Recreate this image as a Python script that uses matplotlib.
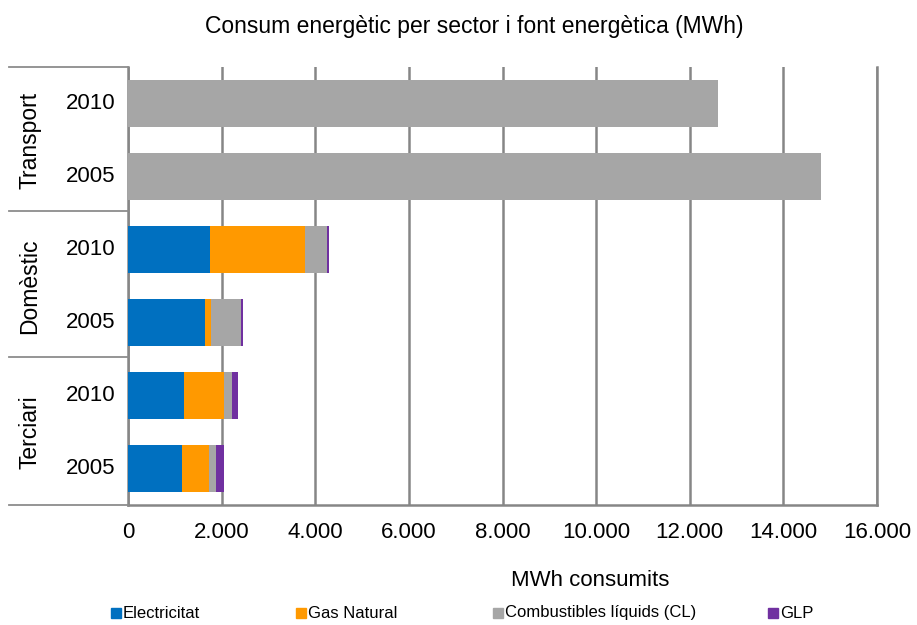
import matplotlib
matplotlib.use("Agg")
import matplotlib.pyplot as plt
from matplotlib.patches import Rectangle
from matplotlib.lines import Line2D
import numpy as np

plt.rcParams['font.family'] = ['Liberation Sans', 'DejaVu Sans']

# Data (MWh), rows top to bottom
sectors = ["Transport", "Domèstic", "Terciari"]
years = ["2010", "2005"]
row_labels = ["Transport 2010", "Transport 2005", "Domèstic 2010",
              "Domèstic 2005", "Terciari 2010", "Terciari 2005"]
electricitat = [0, 0, 1760, 1645, 1205, 1160]
gas_natural = [0, 0, 2030, 120, 855, 560]
combustibles = [12610, 14810, 460, 655, 165, 165]
glp = [0, 0, 35, 40, 115, 170]

series_names = ["Electricitat", "Gas Natural", "Combustibles líquids (CL)", "GLP"]
series_values = [electricitat, gas_natural, combustibles, glp]
colors = ["#0070C0", "#FF9900", "#A6A6A6", "#7030A0"]

xticks = np.arange(0, 16001, 2000)

fig = plt.figure(figsize=(9.17, 6.25), dpi=100)
ax = fig.add_axes([128 / 917, 1 - 505 / 625, (877 - 128) / 917, (505 - 67) / 625])

n = len(row_labels)
ypos = np.arange(n)
left = np.zeros(n)
for name, vals, c in zip(series_names, series_values, colors):
    vals = np.array(vals, dtype=float)
    ax.barh(ypos, vals, left=left, height=0.65, color=c, edgecolor='none', zorder=3)
    left += vals

ax.set_xlim(0, 16000)
ax.set_ylim(n - 0.5, -0.5)
ax.set_xticks(xticks)
ax.set_xticklabels([f"{v:,}".replace(",", ".") for v in xticks], fontsize=16)
ax.tick_params(axis='x', length=0, pad=12, colors='black')
ax.set_yticks([])
ax.grid(axis='x', color='#868686', linewidth=1.8, zorder=0)
ax.spines['top'].set_visible(False)
for s in ['left', 'right', 'bottom']:
    ax.spines[s].set_color('#868686')
    ax.spines[s].set_linewidth(1.8)

# Multi-level category axis drawn in figure pixel coordinates
def fx(px):
    return px / 917

def fy(py):
    return 1 - py / 625

line_kw = dict(color='#8c8c8c', linewidth=1.3, transform=fig.transFigure)
for py in [67, 211, 357, 505]:
    fig.add_artist(Line2D([fx(9), fx(128)], [fy(py), fy(py)], **line_kw))

fig_h = fig.get_figheight() * fig.dpi
for i, lab in enumerate(row_labels):
    yr = lab.split()[-1]
    yc = ax.transData.transform((0, i))[1]
    fig.text(fx(91), yc / fig_h, yr, ha='center', va='center', fontsize=16)

for k, sec in enumerate(sectors):
    y0 = ax.transData.transform((0, 2 * k))[1]
    y1 = ax.transData.transform((0, 2 * k + 1))[1]
    fig.text(fx(30), (y0 + y1) / 2 / fig_h, sec, ha='center', va='center',
             rotation=90, fontsize=16.5)

fig.text(fx(474), fy(27), "Consum energètic per sector i font energètica (MWh)",
         ha='center', va='center', fontsize=16.5)
fig.text(fx(590), fy(580), "MWh consumits", ha='center', va='center', fontsize=16)

# Legend
leg_x = [111, 296, 493, 768]
for x0, name, c in zip(leg_x, series_names, colors):
    fig.add_artist(Rectangle((fx(x0), fy(618)), 10 / 917, 10 / 625, color=c,
                             transform=fig.transFigure))
    fig.text(fx(x0 + 12), fy(613), name, ha='left', va='center', fontsize=12)

fig.savefig("out.png", dpi=100)
